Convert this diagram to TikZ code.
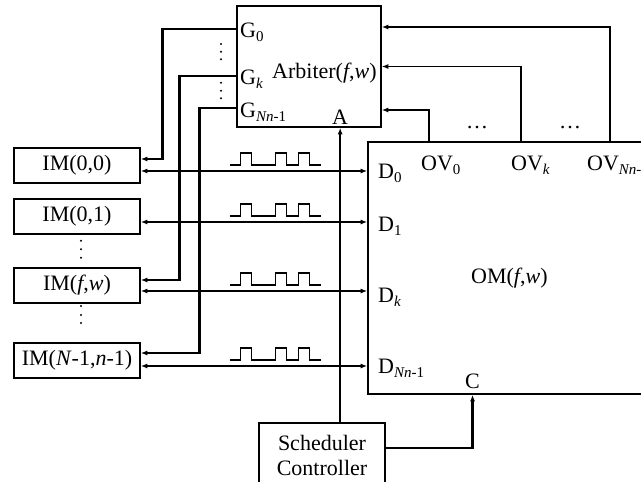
\documentclass[tikz,border=0pt]{standalone}
\usepackage{fontspec}
\setmainfont{Liberation Serif}
\usetikzlibrary{arrows.meta, positioning, calc}
\newcommand{\idx}[1]{\raisebox{-4pt}{\fontsize{15}{15}\selectfont #1}}

\begin{document}
\begin{tikzpicture}[
    x=1pt, y=-1pt,
    every node/.style={font=\fontsize{22}{25}\selectfont},
    box/.style={draw, line width=1.6pt, inner sep=0pt},
    im/.style={box, minimum width=126pt, minimum height=35pt},
    lbl/.style={anchor=base west, inner sep=0pt},
    arrow/.style={-{Latex[length=6.5pt,width=5pt]}, line width=1.5pt},
    biarrow/.style={{Latex[length=6.5pt,width=5pt]}-{Latex[length=6.5pt,width=5pt]}, line width=1.5pt},
    grant/.style={-{Latex[length=6.5pt,width=5pt]}, line width=2.6pt},
    pulse/.style={line width=1.2pt}
]
\useasboundingbox (0,0) rectangle (641,482);
\clip (0,0) rectangle (641,482);

% Arbiter, output module, scheduler
\node[box, minimum width=144pt, minimum height=121pt] (arb) at (309,66.5) {};
\node[box, minimum width=332pt, minimum height=252pt] (om) at (534,268) {};
\node[box, minimum width=126pt, minimum height=64pt, align=center] (sched) at (322,455) {Scheduler\\Controller};

% Input modules
\node[im] (im0) at (77,165.5) {IM(0,0)};
\node[im] (im1) at (77,216.5) {IM(0,1)};
\node[im] (imk) at (77,285.5) {IM(\textit{f},\textit{w})};
\node[im] (imn) at (77,360.5) {IM(\textit{N}-1,\textit{n}-1)};

% Arbiter labels
\node[lbl] (g0) at (240,37) {G\idx{0}};
\node[lbl] (gk) at (240,84) {G\idx{\textit{k}}};
\node[lbl] (gn) at (240,117) {G\idx{\textit{Nn}-1}};
\node[lbl] (arbname) at (272,78) {Arbiter(\textit{f},\textit{w})};
\node[lbl] (a) at (332,124) {A};

% OM labels
\node[lbl] (d0) at (378,178) {D\idx{0}};
\node[lbl] (d1) at (378,231) {D\idx{1}};
\node[lbl] (dk) at (378,302) {D\idx{\textit{k}}};
\node[lbl] (dn) at (378,373) {D\idx{\textit{Nn}-1}};
\node[lbl] (omname) at (471,283) {OM(\textit{f},\textit{w})};
\node[lbl] (c) at (465,388) {C};
\node[lbl] (ov0) at (421,170) {OV\idx{0}};
\node[lbl] (ovk) at (511,170) {OV\idx{\textit{k}}};
\node[lbl] (ovn) at (587,170) {OV\idx{\textit{Nn}-1}};
\node[lbl] (dots1) at (466,128) {…};
\node[lbl] (dots2) at (559,128) {…};

% Vertical dots
\foreach \y in {44,51.7,59.3,82.7,90.7,98.3} \fill (221,\y) circle (1.1pt);
\foreach \y in {240.7,249.3,257.7,306,315,323} \fill (81,\y) circle (1.1pt);

% Grant lines
\draw[grant] ([yshift=37.5pt]arb.west) -- ++(-74,0) |- ([yshift=6.5pt]im0.east);
\draw[grant] ([yshift=-9.5pt]arb.west) -- ++(-57,0) |- ([yshift=5.5pt]imk.east);
\draw[grant] ([yshift=-41.5pt]arb.west) -- ++(-37,0) |- ([yshift=7.5pt]imn.east);

% Data lines with pulses
\foreach \m in {im0,im1,imk,imn} {
  \draw[biarrow] ([yshift=-5.5pt]\m.east) -- ([yshift=-5.5pt]\m.east -| om.west);
  \draw[pulse] ([xshift=89pt,yshift=0.5pt]\m.east) -- ++(11,0) -- ++(0,-12) -- ++(11,0) -- ++(0,12)
    -- ++(24,0) -- ++(0,-12) -- ++(11,0) -- ++(0,12) -- ++(12,0) -- ++(0,-12) -- ++(11,0) -- ++(0,12) -- ++(11,0);
}

% Output valid lines
\draw[arrow] ([xshift=62pt]om.north west) |- ([yshift=-43.5pt]arb.east);
\draw[arrow] ([xshift=154pt]om.north west) |- (arb.east);
\draw[arrow] ([xshift=243pt]om.north west) |- ([yshift=39.5pt]arb.east);

% Scheduler lines
\draw[arrow] (a |- sched.north) -- (a |- arb.south);
\draw[grant] ([yshift=7pt]sched.east) -| (c |- om.south);

\end{tikzpicture}
\end{document}
